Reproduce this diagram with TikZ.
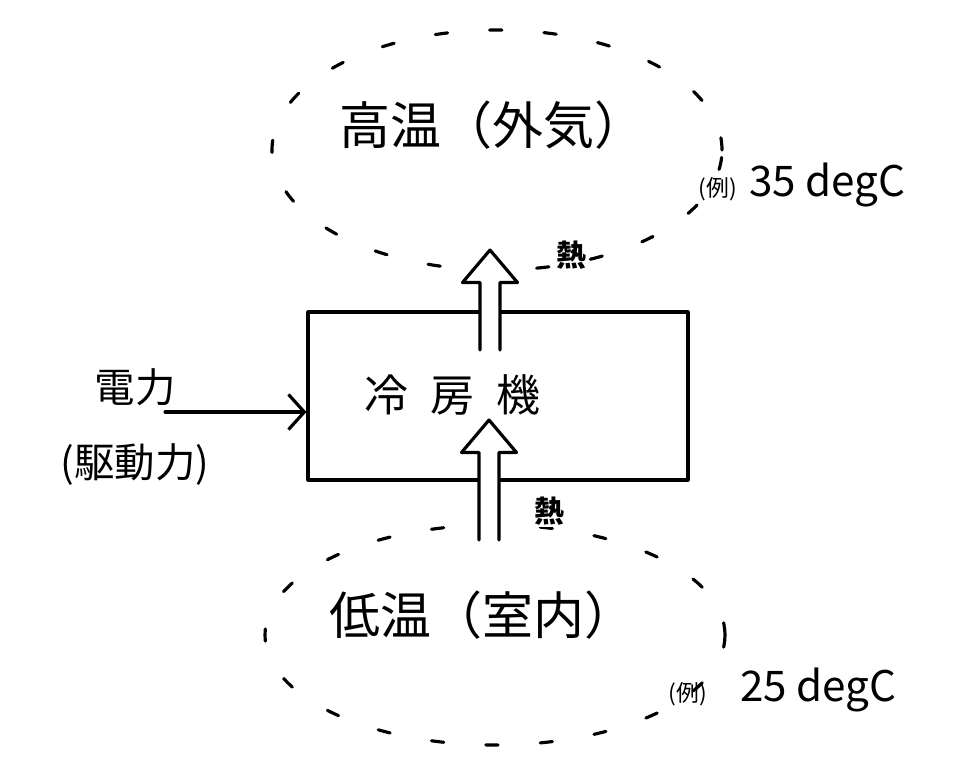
\documentclass[tikz,border=0pt]{standalone}
\usepackage{fontspec}
\setmainfont{Noto Sans CJK JP}
\usetikzlibrary{shapes.geometric, arrows.meta, calc}

\tikzset{
  pen/.style={line width=1.8pt, line cap=round, line join=round},
  region/.style={draw, pen, ellipse, dash pattern=on 7pt off 24pt},
  machine/.style={draw, pen, rectangle},
  heat/.style={draw, pen, fill=white, to path={
      ($(\tikztostart)+(-0.2,0)$) -- ($(\tikztotarget)+(-0.2,-0.65)$)
      -- ($(\tikztotarget)+(-0.55,-0.65)$) -- (\tikztotarget)
      -- ($(\tikztotarget)+(0.55,-0.65)$) -- ($(\tikztotarget)+(0.2,-0.65)$)
      -- ($(\tikztostart)+(0.2,0)$)}},
  power/.style={draw, pen, -{Straight Barb[length=9pt, width=20pt, line width=1.8pt]}},
  big/.style={font=\fontsize{29}{32}\selectfont},
  mid/.style={font=\fontsize{23}{26}\selectfont},
  heatlbl/.style={fill=white, inner sep=1pt, font=\fontsize{17}{20}\selectfont\bfseries},
}

\begin{document}
\begin{tikzpicture}
  \useasboundingbox (0,0) rectangle (19.18,-15.2);

  % outside / room
  \node[region, minimum width=9cm, minimum height=4.8cm] (high) at (9.94,-3.0) {};
  \node[region, minimum width=9.2cm, minimum height=4.4cm] (low) at (9.9,-12.7) {};
  \node[big] (hightxt) at (9.85,-2.5) {高温（外気）};
  \node[big] (lowtxt) at (9.65,-12.3) {低温（室内）};
  \node[anchor=west] (hotex) at (13.85,-3.7) {{\fontsize{13}{15}\selectfont (例)}\hspace{0.7em}{\fontsize{24}{26}\selectfont 35 degC}};
  \node[anchor=west] (coldex) at (13.25,-13.8) {{\fontsize{13}{15}\selectfont (例)}\hspace{1.9em}{\fontsize{24}{26}\selectfont 25 degC}};

  % cooler
  \node[machine, minimum width=7.6cm, minimum height=3.36cm] (box) at (9.96,-7.92) {};
  \node[mid, font=\fontsize{25}{28}\selectfont] (boxtxt) at (9.05,-7.9) {冷\hspace{0.5em}房\hspace{0.5em}機};

  % heat flow
  \coordinate (lowtop) at (9.78,-10.8);
  \coordinate (boxin) at (9.78,-8.4);
  \coordinate (boxout) at (9.8,-7.0);
  \coordinate (hightip) at (9.8,-5.0);
  \draw[heat] (lowtop) to (boxin);
  \draw[heat] (boxout) to (hightip);
  \node[heatlbl] (q1) at (11.42,-5.1) {熱};
  \node[heatlbl] (q2) at (10.98,-10.22) {熱};

  % drive
  \node[mid] (pwr) at (2.7,-7.75) {電力};
  \node[mid] (pwrsub) at (2.7,-9.3) {(駆動力)};
  \coordinate (pwrstart) at (3.3,-8.24);
  \draw[power] (pwrstart) -- (pwrstart -| box.west);
\end{tikzpicture}
\end{document}
